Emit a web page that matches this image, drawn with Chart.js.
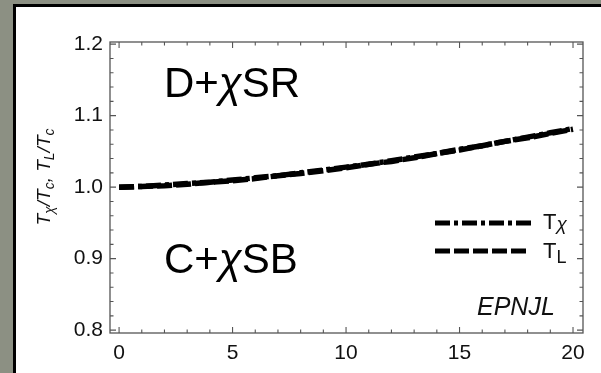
<!DOCTYPE html>
<html>
<head>
<meta charset="utf-8">
<script src="https://cdn.jsdelivr.net/npm/chart.js@4.4.1/dist/chart.umd.min.js"></script>
<style>
  html, body { margin: 0; padding: 0; }
  body { width: 601px; height: 373px; background: #8c9083; position: relative; overflow: hidden; }
  #panel { position: absolute; left: 13px; top: 4px; width: 600px; height: 380px;
           background: #fff; border-left: 3px solid #000; border-top: 3px solid #000; }
  #c { position: absolute; left: 0; top: 0; }
</style>
</head>
<body>
<div id="panel"></div>
<canvas id="c" width="601" height="373"></canvas>
<script>
// Chemical potential-like control parameter on the x axis
const xValues = [0, 1, 2, 3, 4, 5, 6, 7, 8, 9, 10, 11, 12, 13, 14, 15, 16, 17, 18, 19, 20];
// Chiral transition temperature, normalised
const tChi = [1.000, 1.001, 1.003, 1.005, 1.007, 1.010, 1.013, 1.016, 1.020, 1.024, 1.028,
              1.032, 1.037, 1.042, 1.047, 1.053, 1.058, 1.064, 1.070, 1.076, 1.082];
// Deconfinement transition temperature, normalised
const tL   = [1.000, 1.001, 1.002, 1.004, 1.007, 1.009, 1.012, 1.016, 1.019, 1.023, 1.027,
              1.032, 1.036, 1.041, 1.047, 1.052, 1.058, 1.064, 1.069, 1.075, 1.081];
const xTicks = [0, 5, 10, 15, 20];
const yTicks = [0.8, 0.9, 1.0, 1.1, 1.2];

const FONT = '"Liberation Sans", Arial, sans-serif';

function drawRuns(ctx, x, y, runs) {
  let cx = x;
  for (const r of runs) {
    ctx.font = r.font;
    ctx.fillText(r.t, cx, y + (r.dy || 0));
    cx += ctx.measureText(r.t).width;
  }
  return cx;
}

// Mathematica-style frame: inward ticks on all four sides, with minor ticks
const framePlugin = {
  id: 'frame',
  afterDraw(chart) {
    const ctx = chart.ctx;
    const a = chart.chartArea;
    const xs = chart.scales.x, ys = chart.scales.y;
    ctx.save();
    ctx.strokeStyle = '#555';
    ctx.lineWidth = 1.3;
    ctx.strokeRect(a.left, a.top, a.right - a.left, a.bottom - a.top);
    ctx.lineWidth = 1.1;
    ctx.beginPath();
    for (let v = 0; v <= 20; v += 1) {
      const major = v % 5 === 0;
      const len = major ? 6 : 3.5;
      const px = xs.getPixelForValue(v);
      ctx.moveTo(px, a.bottom); ctx.lineTo(px, a.bottom - len);
      ctx.moveTo(px, a.top); ctx.lineTo(px, a.top + len);
    }
    for (let i = 0; i <= 20; i++) {
      const v = 0.8 + i * 0.02;
      const major = i % 5 === 0;
      const len = major ? 6 : 3.5;
      const py = ys.getPixelForValue(v);
      ctx.moveTo(a.left, py); ctx.lineTo(a.left + len, py);
      ctx.moveTo(a.right, py); ctx.lineTo(a.right - len, py);
    }
    ctx.stroke();

    // y-axis title
    ctx.fillStyle = '#111';
    ctx.textBaseline = 'alphabetic';
    const big = 'italic 19px ' + FONT, small = 'italic 14px ' + FONT;
    const runs = [
      { t: 'T', font: big }, { t: '\u03C7', font: small, dy: 4 }, { t: '/', font: big },
      { t: 'T', font: big }, { t: 'c', font: small, dy: 4 }, { t: ', ', font: big },
      { t: 'T', font: big }, { t: 'L', font: small, dy: 4 }, { t: '/', font: big },
      { t: 'T', font: big }, { t: 'c', font: small, dy: 4 }
    ];
    let w = 0;
    for (const r of runs) { ctx.font = r.font; w += ctx.measureText(r.t).width; }
    ctx.save();
    ctx.translate(50, 177);
    ctx.rotate(-Math.PI / 2);
    drawRuns(ctx, -w / 2, 0, runs);
    ctx.restore();

    // region labels
    ctx.fillStyle = '#000';
    const reg = '42px ' + FONT, regI = 'italic 42px ' + FONT;
    drawRuns(ctx, 164, 97, [{ t: 'D+', font: reg }, { t: '\u03C7', font: regI }, { t: 'SR', font: reg }]);
    drawRuns(ctx, 164, 273, [{ t: 'C+', font: reg }, { t: '\u03C7', font: regI }, { t: 'SB', font: reg }]);

    // legend
    ctx.strokeStyle = '#000';
    ctx.lineWidth = 5;
    ctx.lineCap = 'butt';
    ctx.setLineDash([15, 4, 4, 4]);
    ctx.beginPath(); ctx.moveTo(435, 223); ctx.lineTo(531, 223); ctx.stroke();
    ctx.setLineDash([15, 4]);
    ctx.beginPath(); ctx.moveTo(435, 251); ctx.lineTo(526, 251); ctx.stroke();
    ctx.setLineDash([]);
    ctx.fillStyle = '#111';
    drawRuns(ctx, 543, 229, [{ t: 'T', font: '22px ' + FONT }, { t: '\u03C7', font: 'italic 19px ' + FONT, dy: 1 }]);
    drawRuns(ctx, 543, 258, [{ t: 'T', font: '22px ' + FONT }, { t: 'L', font: '18px ' + FONT, dy: 5 }]);

    // model tag
    ctx.font = 'italic 25px ' + FONT;
    ctx.fillText('EPNJL', 477, 315);
    ctx.restore();
  }
};

new Chart(document.getElementById('c'), {
  type: 'line',
  data: {
    labels: xValues,
    datasets: [
      { label: 'T\u03C7', data: xValues.map((x, i) => ({ x, y: tChi[i] })),
        borderColor: '#000', borderWidth: 5.5, borderDash: [15, 4, 4, 4], pointRadius: 0, fill: false },
      { label: 'TL', data: xValues.map((x, i) => ({ x, y: tL[i] })),
        borderColor: '#000', borderWidth: 5.5, borderDash: [15, 4], pointRadius: 0, fill: false }
    ]
  },
  options: {
    responsive: false,
    animation: false,
    layout: { padding: { top: 42, right: 18, left: 0, bottom: 0 } },
    plugins: { legend: { display: false }, tooltip: { enabled: false } },
    scales: {
      x: {
        type: 'linear', min: -0.4, max: 20.44,
        afterBuildTicks: s => { s.ticks = xTicks.map(v => ({ value: v })); },
        afterFit: s => { s.height = 40; },
        grid: { display: false, drawTicks: false },
        border: { display: false },
        ticks: { padding: 8, color: '#111', font: { family: FONT, size: 21 }, maxRotation: 0,
                 callback: v => String(v) }
      },
      y: {
        type: 'linear', min: 0.796, max: 1.203,
        afterBuildTicks: s => { s.ticks = yTicks.map(v => ({ value: v })); },
        afterFit: s => { s.width = 110; },
        grid: { display: false, drawTicks: false },
        border: { display: false },
        ticks: { padding: 7, color: '#111', font: { family: FONT, size: 21 },
                 callback: v => Number(v).toFixed(1) }
      }
    }
  },
  plugins: [framePlugin]
});
</script>
</body>
</html>
